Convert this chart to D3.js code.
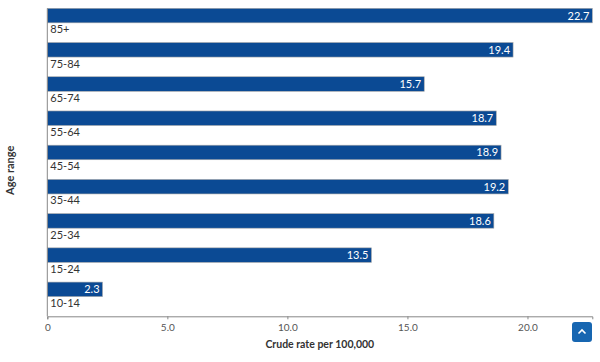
<html>
<head>
  <script src="https://d3js.org/d3.v7.min.js"></script>
  <style>
    body { margin: 0; background: #fff; font-family: Lato, "Open Sans", sans-serif; }
    #chart { position: relative; width: 600px; height: 362px; }
    .btn-top { position: absolute; left: 572px; top: 322px; width: 20px; height: 20px;
               background: #1766b1; border-radius: 3px; }
  </style>
</head>
<body>
  <div id="chart"><div class="btn-top"><svg width="20" height="20"><path d="M6.5 11.5 L10 8 L13.5 11.5" fill="none" stroke="#fff" stroke-width="1.6"/></svg></div></div>

  <script>
    // data
    var ages = ['85+', '75-84', '65-74', '55-64', '45-54', '35-44', '25-34', '15-24', '10-14'];
    var rates = [22.7, 19.4, 15.7, 18.7, 18.9, 19.2, 18.6, 13.5, 2.3];
    var tickValues = [0, 5, 10, 15, 20];

    var data = ages.map(function(a, i) { return {age: a, rate: rates[i]}; });

    var margin = {top: 8.3, right: 8, bottom: 46, left: 47.3};
    var width = 592.3 - margin.left;
    var height = 316.3 - margin.top;

    var x = d3.scaleLinear().domain([0, 22.7]).range([0, width]);
    var y = d3.scaleBand().domain(ages).range([0, height]).padding(0);
    var barH = y.bandwidth() * 0.425;

    var svg = d3.select('#chart').append('svg')
        .attr('width', 600).attr('height', 362)
        .style('position', 'absolute').style('left', 0).style('top', 0)
      .append('g')
        .attr('transform', 'translate(' + margin.left + ',' + margin.top + ')');

    svg.selectAll('rect.bar')
      .data(data)
      .enter().append('rect')
        .attr('class', 'bar')
        .attr('x', 0)
        .attr('y', function(d) { return y(d.age); })
        .attr('width', function(d) { return x(d.rate); })
        .attr('height', barH)
        .attr('fill', '#0b4a94')
        .attr('stroke', '#a9a9a9')
        .attr('stroke-width', 0.6);

    svg.selectAll('text.val')
      .data(data)
      .enter().append('text')
        .attr('class', 'val')
        .attr('x', function(d) { return x(d.rate) - 3; })
        .attr('y', function(d) { return y(d.age) + barH / 2; })
        .attr('dy', '0.36em')
        .attr('text-anchor', 'end')
        .attr('fill', '#fff')
        .style('font-size', '11px')
        .text(function(d) { return d.rate.toFixed(1); });

    svg.selectAll('text.cat')
      .data(data)
      .enter().append('text')
        .attr('class', 'cat')
        .attr('x', 3)
        .attr('y', function(d) { return y(d.age) + barH + 6.5; })
        .attr('dy', '0.36em')
        .attr('fill', '#333')
        .style('font-size', '11px')
        .text(function(d) { return d.age; });

    // axes
    var xAxis = d3.axisBottom(x).tickValues(tickValues).tickSizeOuter(0).tickSize(3).tickPadding(5)
      .tickFormat(function(d) { return d === 0 ? '0' : d3.format('.1f')(d); });

    var gx = svg.append('g')
      .attr('transform', 'translate(0,' + height + ')')
      .call(xAxis);
    gx.select('.domain').attr('stroke', '#888');
    gx.selectAll('.tick line').attr('stroke', '#888');
    gx.selectAll('.tick text').attr('fill', '#555').style('font-size', '10px').style('font-family', 'Lato, sans-serif');

    svg.append('line')
      .attr('x1', 0).attr('x2', 0).attr('y1', 0).attr('y2', height)
      .attr('stroke', '#888');

    svg.append('text')
      .attr('x', width / 2)
      .attr('y', height + 28)
      .attr('dy', '0.36em')
      .attr('text-anchor', 'middle')
      .attr('fill', '#333')
      .style('font-size', '10.5px')
      .style('font-weight', 'bold')
      .text('Crude rate per 100,000');

    svg.append('text')
      .attr('transform', 'translate(' + (-37) + ',' + (height / 2 + 8) + ') rotate(-90)')
      .attr('dy', '0.36em')
      .attr('text-anchor', 'middle')
      .attr('fill', '#333')
      .style('font-size', '11px')
      .style('font-weight', 'bold')
      .text('Age range');
  </script>
</body>
</html>
